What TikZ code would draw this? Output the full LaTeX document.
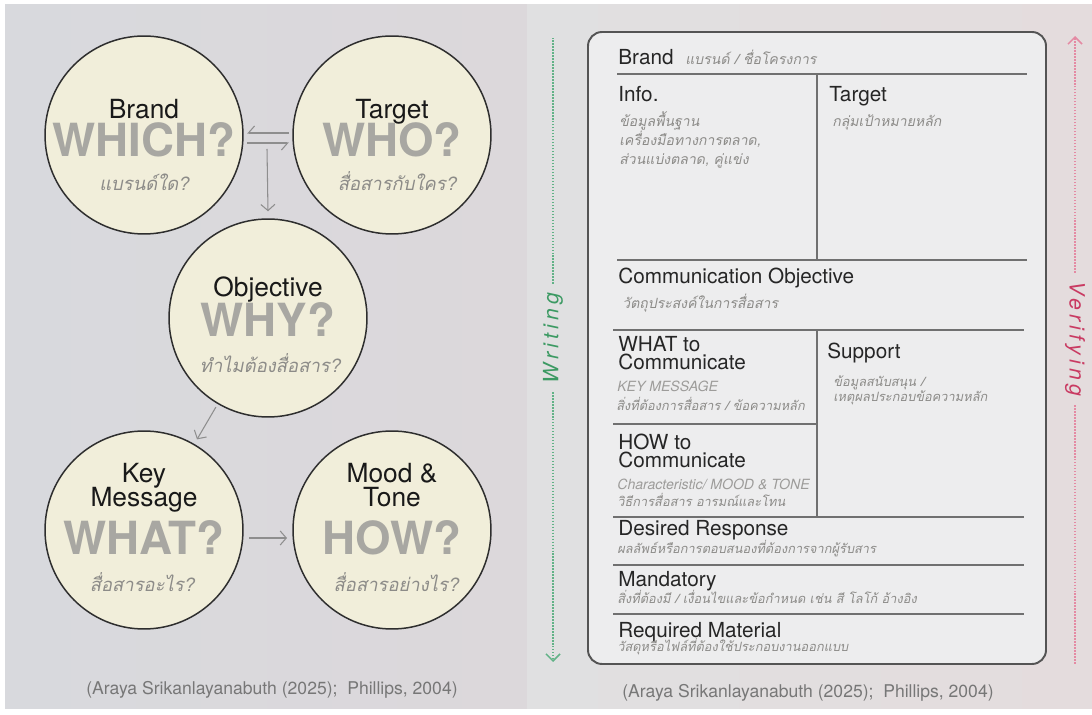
\documentclass[tikz,border=0pt]{standalone}
\usepackage{fontspec}
\usepackage{xcolor}
\usepackage{tikz}
\usetikzlibrary{arrows.meta}
\setmainfont{TeX Gyre Heros}
\newfontfamily\thai[Script=Thai,FakeSlant=0.2]{Loma}
\newfontfamily\spaced[LetterSpace=20]{TeX Gyre Heros}
\definecolor{paneLa}{HTML}{D8D9DD}
\definecolor{paneLb}{HTML}{DCD8DB}
\definecolor{paneRa}{HTML}{E0E0E1}
\definecolor{paneRb}{HTML}{E4DCDD}
\definecolor{cream}{HTML}{F1EEDA}
\definecolor{ring}{HTML}{2E2E2E}
\definecolor{qgray}{HTML}{A8A7A2}
\definecolor{subgray}{HTML}{8C8B88}
\definecolor{flowgray}{HTML}{8E8E8E}
\definecolor{sheet}{HTML}{EDEDEE}
\definecolor{sheetline}{HTML}{545454}
\definecolor{rulegray}{HTML}{707070}
\definecolor{citegray}{HTML}{777777}
\definecolor{writegreen}{HTML}{3C9A63}
\definecolor{writedots}{HTML}{62B287}
\definecolor{verifyred}{HTML}{C93A62}
\definecolor{verifydots}{HTML}{E48AA3}

\begin{document}
\begin{tikzpicture}[x=0.02cm,y=-0.02cm,every node/.style={inner sep=0pt},
  bubble/.style={circle,draw=ring,fill=cream,line width=0.85pt,minimum size=3.96cm},
  head/.style={anchor=base,font=\fontsize{15}{15}\selectfont,text=black!90},
  qword/.style={anchor=base,font=\fontsize{26}{26}\selectfont\bfseries,text=qgray},
  qsub/.style={anchor=base,font=\thai\fontsize{10.5}{10.5}\selectfont,text=subgray,text height=1.4ex,text depth=0.3ex},
  flow/.style={draw=flowgray,line width=0.6pt,-{Straight Barb[length=3.5pt,width=8pt]}},
  harp/.style={draw=flowgray,line width=0.6pt,-{Straight Barb[harpoon,swap,length=3.5pt,width=8pt]}},
  field/.style={anchor=base west,font=\fontsize{11.8}{11.8}\selectfont,text=black!85},
  hint/.style={anchor=base west,font=\thai\fontsize{8}{8}\selectfont,text=subgray,text height=1.4ex,text depth=0.3ex},
  tight hint/.style={hint,font=\thai\fontsize{7.3}{7.3}\selectfont},
  latin hint/.style={anchor=base west,font=\fontsize{8}{8}\selectfont\itshape,text=subgray!85},
  rule/.style={draw=rulegray,line width=0.8pt},
  cite/.style={anchor=base,font=\fontsize{10}{10}\selectfont,text=citegray},
  side/.style={line width=0.9pt,dash pattern=on 0.8pt off 0.9pt},
  sidetext/.style={font=\spaced\itshape\fontsize{12}{12}\selectfont}]
\useasboundingbox (0,0) rectangle (1092,715);
\fill[white] (0,0) rectangle (1092,715);
\shade[left color=paneLa,right color=paneLb] (5,5) rectangle (527,709);
\shade[left color=paneRa,right color=paneRb] (527,5) rectangle (1092,709);

% five questions
\node[bubble] (brand) at (144,135) {};
\node[head] (brand-h) at (144,119) {Brand};
\node[qword] (brand-q) at (144,157) {WHICH?};
\node[qsub] (brand-s) at (144,191) {แบรนด์ใด?};

\node[bubble] (target) at (392,135) {};
\node[head] (target-h) at (392,119) {Target};
\node[qword] (target-q) at (392,157) {WHO?};
\node[qsub] (target-s) at (397,191) {สื่อสารกับใคร?};

\node[bubble] (objective) at (268,318) {};
\node[head] (objective-h) at (268,297) {Objective};
\node[qword] (objective-q) at (268,337) {WHY?};
\node[qsub] (objective-s) at (270,373) {ทำไมต้องสื่อสาร?};

\node[bubble] (keymsg) at (144,530) {};
\node[head] (keymsg-h1) at (144,483) {Key};
\node[head] (keymsg-h2) at (144,507) {Message};
\node[qword] (keymsg-q) at (144,555) {WHAT?};
\node[qsub] (keymsg-s) at (142,592) {สื่อสารอะไร?};

\node[bubble] (mood) at (392,530) {};
\node[head] (mood-h1) at (392,483) {Mood \&};
\node[head] (mood-h2) at (392,507) {Tone};
\node[qword] (mood-q) at (392,555) {HOW?};
\node[qsub] (mood-s) at (396,592) {สื่อสารอย่างไร?};

\draw[harp,shorten <=2pt,shorten >=2pt] ([yshift=0.04cm]target.west) -- ([yshift=0.04cm]brand.east);
\draw[harp,shorten <=2pt,shorten >=2pt] ([yshift=-0.16cm]brand.east) -- ([yshift=-0.16cm]target.west);
\coordinate (split) at (267,149);
\draw[flow] (split) -- ([yshift=0.14cm]objective.north);
\draw[flow,shorten <=2pt,shorten >=3pt] (objective) -- (keymsg);
\draw[flow,shorten <=3pt,shorten >=3pt] ([yshift=-0.16cm]keymsg.east) -- ([yshift=-0.16cm]mood.west);

\node[cite] (cite-l) at (272,695) {(Araya Srikanlayanabuth (2025);\ \ Phillips, 2004)};

% brief sheet
\draw[draw=sheetline,fill=sheet,line width=1.1pt,rounded corners=8pt] (588,32) rectangle (1046,664);
\draw[rule] (617,74) -- (1027,74);
\draw[rule] (817,74) -- (817,260);
\draw[rule] (617,260) -- (1027,260);
\draw[rule] (613,330) -- (1024,330);
\draw[rule] (817,330) -- (817,517);
\draw[rule] (613,424) -- (817,424);
\foreach \y in {517,565,614}
  \draw[rule] (613,\y) -- (1024,\y);

\node[field] (brief-brand) at (618,65) {Brand};
\node[hint] (brief-brand-n) at (685,65) {แบรนด์ / ชื่อโครงการ};
\node[field] (info) at (618,102) {Info.};
\node[hint] (info-1) at (619,127) {ข้อมูลพื้นฐาน};
\node[hint] (info-2) at (619,146) {เครื่องมือทางการตลาด,};
\node[hint] (info-3) at (619,165) {ส่วนแบ่งตลาด, คู่แข่ง};
\node[field] (brief-target) at (829,102) {Target};
\node[hint] (brief-target-n) at (832,127) {กลุ่มเป้าหมายหลัก};
\node[field] (comm) at (618,284) {Communication Objective};
\node[hint] (comm-n) at (622,309) {วัตถุประสงค์ในการสื่อสาร};
\node[field] (what-1) at (618,352) {WHAT to};
\node[field] (what-2) at (618,370) {Communicate};
\node[latin hint] (what-n) at (617,392) {KEY MESSAGE};
\node[tight hint] (what-th) at (616,411) {สิ่งที่ต้องการสื่อสาร / ข้อความหลัก};
\node[field] (support) at (827,359) {Support};
\node[tight hint] (support-1) at (833,387) {ข้อมูลสนับสนุน /};
\node[tight hint] (support-2) at (833,402) {เหตุผลประกอบข้อความหลัก};
\node[field] (how-1) at (618,450) {HOW to};
\node[field] (how-2) at (618,468) {Communicate};
\node[latin hint] (how-n) at (617,490) {Characteristic/ MOOD \& TONE};
\node[tight hint] (how-th) at (617,507) {วิธีการสื่อสาร อารมณ์และโทน};
\node[field] (response) at (618,536) {Desired Response};
\node[tight hint] (response-n) at (617,554) {ผลลัพธ์หรือการตอบสนองที่ต้องการจากผู้รับสาร};
\node[field] (mandatory) at (618,587) {Mandatory};
\node[tight hint] (mandatory-n) at (617,604) {สิ่งที่ต้องมี / เงื่อนไขและข้อกำหนด เช่น สี โลโก้ อ้างอิง};
\node[field] (material) at (618,638) {Required Material};
\node[tight hint] (material-n) at (617,652) {วัสดุหรือไฟล์ที่ต้องใช้ประกอบงานออกแบบ};

\node[cite] (cite-r) at (808,698) {(Araya Srikanlayanabuth (2025);\ \ Phillips, 2004)};

% writing / verifying
\node[sidetext,rotate=90,text=writegreen] (writing) at (553,338) {Writing};
\coordinate (write-top) at (553,38);
\coordinate (write-end) at (553,662);
\draw[side,draw=writedots,shorten <=5pt] (writing.east) -- (write-top);
\draw[side,draw=writedots,shorten <=5pt,-{Straight Barb[length=4pt,width=8pt]}] (writing.west) -- (write-end);

\node[sidetext,rotate=-90,text=verifyred] (verifying) at (1075,339) {Verifying};
\coordinate (verify-top) at (1075,36);
\coordinate (verify-end) at (1075,665);
\draw[side,draw=verifydots,shorten <=5pt,-{Straight Barb[length=4pt,width=8pt]}] (verifying.west) -- (verify-top);
\draw[side,draw=verifydots,shorten <=5pt] (verifying.east) -- (verify-end);
\end{tikzpicture}
\end{document}
